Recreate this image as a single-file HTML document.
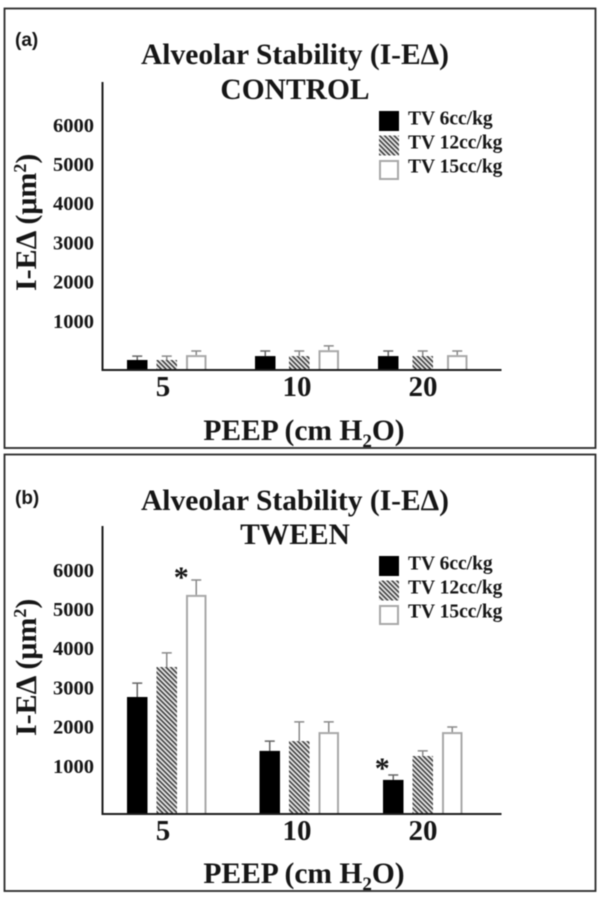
<!DOCTYPE html>
<html lang="en">
<head>
<meta charset="utf-8">
<title>Alveolar Stability (I-EΔ)</title>
<style>
html,body{margin:0;padding:0;background:#fff;width:600px;height:901px;overflow:hidden}
svg{display:block;filter:blur(.55px)}
text{font-family:"Liberation Serif","DejaVu Serif",serif;font-weight:bold;fill:#161616}
.sans{font-family:"Liberation Sans","DejaVu Sans",sans-serif}
</style>
</head>
<body>
<svg id="figure" xmlns="http://www.w3.org/2000/svg" width="600" height="901" viewBox="0 0 600 901">
<defs>
<pattern id="hatch" width="3.4" height="3.4" patternUnits="userSpaceOnUse" patternTransform="rotate(45)">
<rect width="3.4" height="3.4" fill="#ececec"/>
<rect y="0" width="3.4" height="1.6" fill="#3c3c3c"/>
</pattern>
</defs>
</svg>
<script>
var categories = ['5', '10', '20'];
var seriesNames = ['TV 6cc/kg', 'TV 12cc/kg', 'TV 15cc/kg'];
var tickLabels = [1000, 2000, 3000, 4000, 5000, 6000];
var controlTv6 = [0, 100, 100];
var controlTv12 = [0, 100, 100];
var controlTv15 = [125, 250, 125];
var controlErrTv6 = [100, 230, 230];
var controlErrTv12 = [100, 230, 230];
var controlErrTv15 = [230, 360, 230];
var tweenTv6 = [2755, 1380, 640];
var tweenTv12 = [3520, 1630, 1250];
var tweenTv15 = [5360, 1860, 1860];
var tweenErrTv6 = [3110, 1630, 765];
var tweenErrTv12 = [3880, 2120, 1380];
var tweenErrTv15 = [5740, 2120, 1990];

var NS = 'http://www.w3.org/2000/svg';
var svg = document.getElementById('figure');

function make(tag, attrs, parent, text) {
  var el = document.createElementNS(NS, tag);
  for (var k in attrs) el.setAttribute(k, attrs[k]);
  if (text !== undefined) el.textContent = text;
  parent.appendChild(el);
  return el;
}

function drawPanel(cfg) {
  var g = make('g', {}, svg);
  
  
  var o = cfg.offset;
  var yScale = function (v) { return cfg.zeroY - v * 0.0392; };

  var border = make('rect', {x: 4.5, y: cfg.top, width: 591, height: cfg.bottom - cfg.top, fill: '#fff', stroke: '#2a2a2a', 'stroke-width': 1.8}, g);
  
  

  var tag = make('text', {x: 15, y: cfg.tagY, 'font-size': 19, class: 'sans'}, g, '(' + cfg.id + ')');
  
  

  var t1 = make('text', {x: 295, y: cfg.titleY, 'font-size': 29.5, 'text-anchor': 'middle'}, g, 'Alveolar Stability (I-EΔ)');
  
  
  var t2 = make('text', {x: 295, y: cfg.subtitleY, 'font-size': 29.5, 'text-anchor': 'middle'}, g, cfg.subtitle);
  
  

  tickLabels.forEach(function (v) {
    var tl = make('text', {x: 94, y: yScale(v) + 7, 'font-size': 20.5, 'text-anchor': 'end'}, g, String(v));
    
    
  });

  var yTitle = make('text', {transform: 'translate(36,' + (291 + o) + ') rotate(-90)', 'font-size': 30}, g);
  
  
  make('tspan', {}, yTitle, 'I-EΔ (μm');
  make('tspan', {dy: -10, 'font-size': 18}, yTitle, '2');
  make('tspan', {dy: 10}, yTitle, ')');

  var barW = 20.5;
  cfg.series.forEach(function (values, s) {
    values.forEach(function (v, c) {
      var x = 127 + c * 128 + s * 29.5 + cfg.nudge(c, s);
      var top = yScale(v);
      var errTop = yScale(cfg.errors[s][c]);
      var cx = x + barW / 2;
      var err = make('path', {d: 'M' + cx + ' ' + top + 'V' + errTop + 'M' + (cx - 5) + ' ' + errTop + 'H' + (cx + 5), fill: 'none', stroke: s === 0 ? '#666' : '#8a8a8a', 'stroke-width': 1.5}, g);
      
      
      var fill = s === 0 ? '#000' : s === 1 ? 'url(#hatch)' : '#fff';
      var inset = s === 2 ? 1 : 0;
      var bar = make('rect', {x: x + inset, y: top + inset, width: barW - 2 * inset, height: cfg.baseY - top - inset, fill: fill, stroke: s === 2 ? '#a8a8a8' : 'none', 'stroke-width': 2}, g);
      
      
    });
  });

  var axes = make('path', {d: 'M102.5 ' + (cfg.baseY - 288) + 'V' + cfg.baseY + 'H501.5', fill: 'none', stroke: '#1c1c1c', 'stroke-width': 2}, g);
  
  

  categories.forEach(function (c, i) {
    var cl = make('text', {x: 163 + i * 130 + (i === 1 ? 4 : 0), y: cfg.catY, 'font-size': 29, 'text-anchor': 'middle'}, g, c);
    
    
  });

  var xTitle = make('text', {x: 304, y: cfg.xTitleY, 'font-size': 29.5, 'text-anchor': 'middle'}, g);
  
  
  make('tspan', {}, xTitle, 'PEEP (cm H');
  make('tspan', {dy: 7, 'font-size': 19}, xTitle, '2');
  make('tspan', {dy: -7}, xTitle, 'O)');

  seriesNames.forEach(function (name, s) {
    var y = 111 + o + s * 24.5;
    var fill = s === 0 ? '#000' : s === 1 ? 'url(#hatch)' : '#fff';
    var inset = s === 2 ? 1 : 0;
    var sw = make('rect', {x: 379 + inset, y: y + inset, width: 20 - 2 * inset, height: 20 - 2 * inset, fill: fill, stroke: s === 2 ? '#a8a8a8' : 'none', 'stroke-width': 2}, g);
    
    
    var lt = make('text', {x: 408, y: 115 + o + s * 24 + 9.5, 'font-size': 19.5}, g, name);
    
    
  });

  cfg.stars.forEach(function (st) {
    var x = 127 + st.c * 128 + st.s * 29.5 + cfg.nudge(st.c, st.s) + barW / 2 + st.dx;
    var star = make('text', {x: x, y: yScale(cfg.errors[st.s][st.c]) + st.dy, 'font-size': 30, 'text-anchor': 'middle'}, g, '*');
    
    
  });
}

drawPanel({
  id: 'a', subtitle: 'CONTROL', top: 8.5, bottom: 448, zeroY: 360, baseY: 370,
  offset: 0, tagY: 46, titleY: 64, subtitleY: 99, catY: 396, xTitleY: 440,
  series: [controlTv6, controlTv12, controlTv15],
  errors: [controlErrTv6, controlErrTv12, controlErrTv15],
  stars: [],
  nudge: function (c, s) {
    if (c === 1) return s === 0 ? 0 : 4.5;
    if (c === 2) return s === 0 ? -5 : s === 1 ? 0 : 5;
    return 0;
  }
});

drawPanel({
  id: 'b', subtitle: 'TWEEN', top: 454.5, bottom: 891, zeroY: 805, baseY: 814,
  offset: 445, tagY: 504, titleY: 510, subtitleY: 544, catY: 840, xTitleY: 883,
  series: [tweenTv6, tweenTv12, tweenTv15],
  errors: [tweenErrTv6, tweenErrTv12, tweenErrTv15],
  stars: [{c: 0, s: 2, dx: -15, dy: 7}, {c: 2, s: 0, dx: -11, dy: 3}],
  nudge: function (c, s) {
    return c === 1 ? 4.5 : 0;
  }
});
</script>
</body>
</html>
